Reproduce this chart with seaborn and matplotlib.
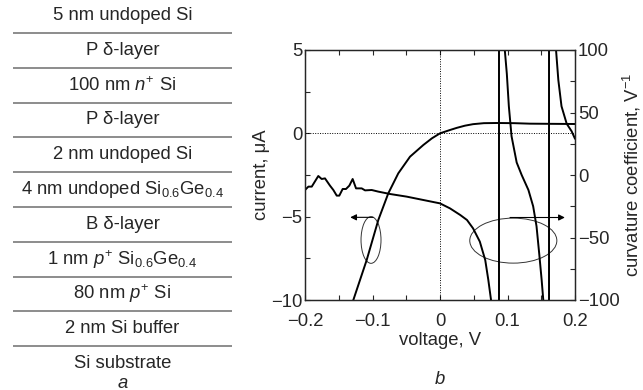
import numpy as np
import pandas as pd
import matplotlib
matplotlib.use("Agg")
import matplotlib.pyplot as plt
import seaborn as sns
from matplotlib.patches import Ellipse
from matplotlib.lines import Line2D
from matplotlib.ticker import MultipleLocator, FuncFormatter

# layer stack, top to bottom
layers = [
    "5 nm undoped Si",
    "P δ-layer",
    "100 nm $n^{+}$ Si",
    "P δ-layer",
    "2 nm undoped Si",
    "4 nm undoped Si$_{0.6}$Ge$_{0.4}$",
    "B δ-layer",
    "1 nm $p^{+}$ Si$_{0.6}$Ge$_{0.4}$",
    "80 nm $p^{+}$ Si",
    "2 nm Si buffer",
    "Si substrate",
]

# I-V curve (left axis, uA)
v_current = [-0.132, -0.1284, -0.1086, -0.0914, -0.0766, -0.0618, -0.0444,
             -0.0247, -0.012, 0.0, 0.0148, 0.025, 0.037, 0.049, 0.065, 0.084,
             0.11, 0.133, 0.165, 0.2]
current = [-10.6, -10.0, -7.6, -5.2, -3.6, -2.4, -1.4,
           -0.7, -0.3, 0.0, 0.2, 0.33, 0.46, 0.55, 0.61, 0.62,
           0.61, 0.58, 0.57, 0.56]

# curvature coefficient (right axis, 1/V)
v_curv = [-0.2, -0.195, -0.19, -0.1803, -0.1753, -0.1704, -0.163, -0.158,
          -0.153, -0.1492, -0.1442, -0.1393, -0.1343, -0.1294, -0.1244,
          -0.116, -0.111, -0.1012, -0.0914, -0.074, -0.0494, -0.0247, 0.0,
          0.0148, 0.030, 0.040, 0.049, 0.059, 0.067, 0.0716, 0.0756, 0.079,
          0.0874, 0.0874, 0.094, 0.096, 0.099, 0.102, 0.106, 0.1136, 0.121,
          0.131, 0.138, 0.143, 0.147, 0.1506, 0.153, 0.156,
          0.1615, 0.1615, 0.168, 0.1719, 0.1753, 0.180, 0.1877, 0.195, 0.2]
curv = [-12, -9.3, -9.3, -0.8, -3.2, -2.7, -8.5, -12,
        -16.5, -16.5, -11.2, -11.2, -8.5, -3.2, -10.7,
        -10.7, -12.3, -12, -13.3, -15.2, -17.3, -20, -22.7,
        -26.7, -32, -36, -42.7, -53.3, -68, -84, -100, -125,
        -3000, 3000, 130, 100, 81, 55, 31, 10, 0,
        -12, -25, -41, -63, -84, -100, -130,
        -3000, 3000, 140, 100, 76, 55, 41, 35, 29]

sns.set_style("ticks")
plt.rcParams["font.family"] = ["Liberation Sans", "DejaVu Sans"]
plt.rcParams["mathtext.fontset"] = "custom"
plt.rcParams["mathtext.rm"] = "Liberation Sans"
plt.rcParams["mathtext.it"] = "Liberation Sans:italic"
plt.rcParams["axes.unicode_minus"] = True
FS = 13.3

fig = plt.figure(figsize=(6.43, 3.90), dpi=100)

# --- part a: layer stack ---
ax_a = fig.add_axes([13 / 643, 0, 219 / 643, 1])
ax_a.set_xlim(0, 1)
ax_a.set_ylim(10.26, -0.948)
ax_a.axis("off")
for k in range(len(layers) - 1):
    ax_a.add_line(Line2D([0, 1], [k, k], color="#6e6e6e", lw=1.1))
for i, name in enumerate(layers):
    ax_a.text(0.5, i - 0.5, name, ha="center", va="center", fontsize=FS)
ax_a.text(0.5, 10.06, "a", ha="center", va="center", fontsize=FS, style="italic")

# --- part b: curves ---
ax = fig.add_axes([305 / 643, 1 - 300 / 390, 270 / 643, 250 / 390])
ax2 = ax.twinx()

df_i = pd.DataFrame({"voltage": v_current, "current": current})
df_c = pd.DataFrame({"voltage": v_curv, "curv": curv})

ax.axhline(0, color="black", lw=0.7, ls=(0, (1, 1.5)))
ax.axvline(0, color="black", lw=0.7, ls=(0, (1, 1.5)))
sns.lineplot(data=df_i, x="voltage", y="current", ax=ax, color="black",
             lw=1.4, sort=False, estimator=None)
sns.lineplot(data=df_c, x="voltage", y="curv", ax=ax2, color="black",
             lw=1.4, sort=False, estimator=None)

ax.set_xlim(-0.2, 0.2)
ax.set_ylim(-10, 5)
ax2.set_ylim(-100, 100)

ax.xaxis.set_major_locator(MultipleLocator(0.1))
ax.xaxis.set_minor_locator(MultipleLocator(0.05))
ax.yaxis.set_major_locator(MultipleLocator(5))
ax.yaxis.set_minor_locator(MultipleLocator(2.5))
ax2.yaxis.set_major_locator(MultipleLocator(50))
ax2.yaxis.set_minor_locator(MultipleLocator(25))
ax.xaxis.set_major_formatter(FuncFormatter(
    lambda x, p: "0" if abs(x) < 1e-9 else f"{x:.1f}".replace("-", "\u2212")))

for a in (ax, ax2):
    a.tick_params(which="both", direction="in", length=3.5, width=0.8,
                  labelsize=FS, pad=2, top=True)
    for s in a.spines.values():
        s.set_linewidth(0.9)
        s.set_visible(True)
ax.tick_params(axis="x", pad=9)

ax.set_xlabel("voltage, V", fontsize=FS, labelpad=2)
ax.set_ylabel("current, μA", fontsize=FS)
ax2.set_ylabel("curvature coefficient, V$^{-1}$", fontsize=FS)
ax.yaxis.set_label_coords(-0.13, 0.5)
ax2.yaxis.set_label_coords(1.17, 0.5)

# ellipse markers with arrows pointing to the matching axis
ax.add_patch(Ellipse((-0.1022, -6.4), 0.0296, 2.8, fill=False, lw=0.7, ec="#333333"))
ax.annotate("", xy=(-0.133, -5.04), xytext=(-0.099, -5.04),
            arrowprops=dict(arrowstyle="-|>", color="black", lw=0.8,
                            mutation_scale=9, shrinkA=0, shrinkB=0))
ax2.add_patch(Ellipse((0.1086, -52.5), 0.129, 36, fill=False, lw=0.7, ec="#333333"))
ax2.annotate("", xy=(0.185, -34), xytext=(0.1037, -34),
             arrowprops=dict(arrowstyle="-|>", color="black", lw=0.8,
                             mutation_scale=9, shrinkA=0, shrinkB=0))

fig.text(440 / 643, 1 - 380 / 390, "b", ha="center", va="center",
         fontsize=FS, style="italic")

fig.savefig("out.png", dpi=100)
